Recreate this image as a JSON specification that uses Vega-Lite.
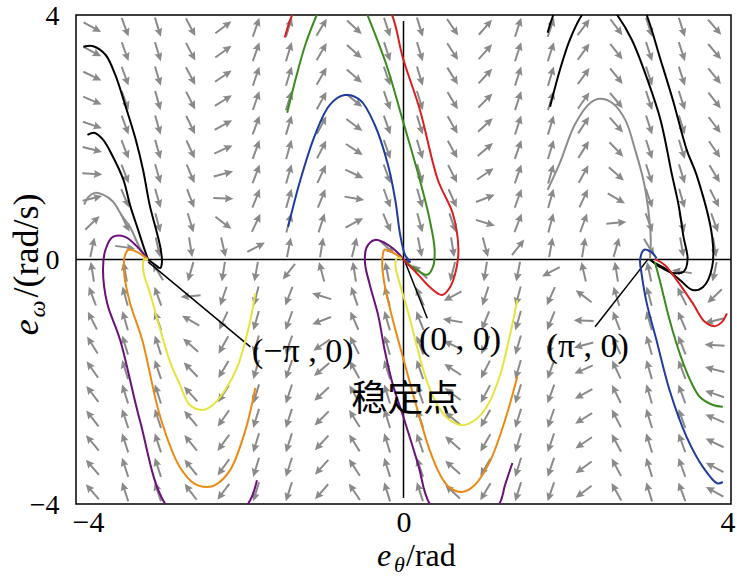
{
"$schema":"https://vega.github.io/schema/vega-lite/v6.json",
"width":655,"height":489,
"autosize":{"type":"none"},
"padding":{"left":76,"top":15,"right":6,"bottom":79},
"background":"white",
"config":{"view":{"stroke":"black","strokeWidth":1.5},"font":"Liberation Serif"},
"datasets":{
"arrows":[
{"x":-3.8,"y":-0.2,"a":-9},{"x":-3.8,"y":-0.6,"a":-21},{"x":-3.8,"y":-1.0,"a":-27},{"x":-3.8,"y":-1.4,"a":-32},{"x":-3.8,"y":-1.8,"a":-35},{"x":-3.8,"y":-2.2,"a":-37},{"x":-3.8,"y":-2.6,"a":-38},{"x":-3.8,"y":-3.0,"a":-40},{"x":-3.8,"y":-3.4,"a":-41},{"x":-3.8,"y":-3.8,"a":-41},
{"x":-3.8,"y":0.2,"a":12},{"x":-3.8,"y":0.6,"a":46},{"x":-3.8,"y":1.0,"a":76},{"x":-3.8,"y":1.4,"a":94},{"x":-3.8,"y":1.8,"a":104},{"x":-3.8,"y":2.2,"a":109},{"x":-3.8,"y":2.6,"a":113},{"x":-3.8,"y":3.0,"a":116},{"x":-3.8,"y":3.4,"a":118},{"x":-3.8,"y":3.8,"a":119},
{"x":-3.4,"y":-0.2,"a":-10},{"x":-3.4,"y":-0.6,"a":-15},{"x":-3.4,"y":-1.0,"a":-16},{"x":-3.4,"y":-1.4,"a":-17},{"x":-3.4,"y":-1.8,"a":-17},{"x":-3.4,"y":-2.2,"a":-17},{"x":-3.4,"y":-2.6,"a":-18},{"x":-3.4,"y":-3.0,"a":-18},{"x":-3.4,"y":-3.4,"a":-18},{"x":-3.4,"y":-3.8,"a":-18},
{"x":-3.4,"y":0.2,"a":98},{"x":-3.4,"y":0.6,"a":154},{"x":-3.4,"y":1.0,"a":157},{"x":-3.4,"y":1.4,"a":159},{"x":-3.4,"y":1.8,"a":159},{"x":-3.4,"y":2.2,"a":160},{"x":-3.4,"y":2.6,"a":160},{"x":-3.4,"y":3.0,"a":160},{"x":-3.4,"y":3.4,"a":160},{"x":-3.4,"y":3.8,"a":160},
{"x":-3.0,"y":-0.2,"a":-31},{"x":-3.0,"y":-0.6,"a":-20},{"x":-3.0,"y":-1.0,"a":-19},{"x":-3.0,"y":-1.4,"a":-18},{"x":-3.0,"y":-1.8,"a":-18},{"x":-3.0,"y":-2.2,"a":-18},{"x":-3.0,"y":-2.6,"a":-18},{"x":-3.0,"y":-3.0,"a":-18},{"x":-3.0,"y":-3.4,"a":-18},{"x":-3.0,"y":-3.8,"a":-18},
{"x":-3.0,"y":0.2,"a":168},{"x":-3.0,"y":0.6,"a":165},{"x":-3.0,"y":1.0,"a":164},{"x":-3.0,"y":1.4,"a":164},{"x":-3.0,"y":1.8,"a":164},{"x":-3.0,"y":2.2,"a":164},{"x":-3.0,"y":2.6,"a":164},{"x":-3.0,"y":3.0,"a":163},{"x":-3.0,"y":3.4,"a":163},{"x":-3.0,"y":3.8,"a":163},
{"x":-2.6,"y":-0.2,"a":-164},{"x":-2.6,"y":-0.6,"a":-95},{"x":-2.6,"y":-1.0,"a":-60},{"x":-2.6,"y":-1.4,"a":-49},{"x":-2.6,"y":-1.8,"a":-44},{"x":-2.6,"y":-2.2,"a":-42},{"x":-2.6,"y":-2.6,"a":-40},{"x":-2.6,"y":-3.0,"a":-39},{"x":-2.6,"y":-3.4,"a":-38},{"x":-2.6,"y":-3.8,"a":-37},
{"x":-2.6,"y":0.2,"a":171},{"x":-2.6,"y":0.6,"a":163},{"x":-2.6,"y":1.0,"a":159},{"x":-2.6,"y":1.4,"a":157},{"x":-2.6,"y":1.8,"a":155},{"x":-2.6,"y":2.2,"a":154},{"x":-2.6,"y":2.6,"a":153},{"x":-2.6,"y":3.0,"a":152},{"x":-2.6,"y":3.4,"a":152},{"x":-2.6,"y":3.8,"a":152},
{"x":-2.2,"y":-0.2,"a":-171},{"x":-2.2,"y":-0.6,"a":-161},{"x":-2.2,"y":-1.0,"a":-155},{"x":-2.2,"y":-1.4,"a":-151},{"x":-2.2,"y":-1.8,"a":-149},{"x":-2.2,"y":-2.2,"a":-147},{"x":-2.2,"y":-2.6,"a":-145},{"x":-2.2,"y":-3.0,"a":-144},{"x":-2.2,"y":-3.4,"a":-144},{"x":-2.2,"y":-3.8,"a":-143},
{"x":-2.2,"y":0.2,"a":167},{"x":-2.2,"y":0.6,"a":127},{"x":-2.2,"y":1.0,"a":92},{"x":-2.2,"y":1.4,"a":75},{"x":-2.2,"y":1.8,"a":66},{"x":-2.2,"y":2.2,"a":61},{"x":-2.2,"y":2.6,"a":58},{"x":-2.2,"y":3.0,"a":56},{"x":-2.2,"y":3.4,"a":54},{"x":-2.2,"y":3.8,"a":53},
{"x":-1.8,"y":-0.2,"a":-170},{"x":-1.8,"y":-0.6,"a":-166},{"x":-1.8,"y":-1.0,"a":-164},{"x":-1.8,"y":-1.4,"a":-164},{"x":-1.8,"y":-1.8,"a":-163},{"x":-1.8,"y":-2.2,"a":-163},{"x":-1.8,"y":-2.6,"a":-163},{"x":-1.8,"y":-3.0,"a":-163},{"x":-1.8,"y":-3.4,"a":-163},{"x":-1.8,"y":-3.8,"a":-163},
{"x":-1.8,"y":0.2,"a":62},{"x":-1.8,"y":0.6,"a":25},{"x":-1.8,"y":1.0,"a":22},{"x":-1.8,"y":1.4,"a":21},{"x":-1.8,"y":1.8,"a":20},{"x":-1.8,"y":2.2,"a":20},{"x":-1.8,"y":2.6,"a":19},{"x":-1.8,"y":3.0,"a":19},{"x":-1.8,"y":3.4,"a":19},{"x":-1.8,"y":3.8,"a":19},
{"x":-1.4,"y":-0.2,"a":-142},{"x":-1.4,"y":-0.6,"a":-159},{"x":-1.4,"y":-1.0,"a":-160},{"x":-1.4,"y":-1.4,"a":-161},{"x":-1.4,"y":-1.8,"a":-161},{"x":-1.4,"y":-2.2,"a":-162},{"x":-1.4,"y":-2.6,"a":-162},{"x":-1.4,"y":-3.0,"a":-162},{"x":-1.4,"y":-3.4,"a":-162},{"x":-1.4,"y":-3.8,"a":-162},
{"x":-1.4,"y":0.2,"a":11},{"x":-1.4,"y":0.6,"a":15},{"x":-1.4,"y":1.0,"a":16},{"x":-1.4,"y":1.4,"a":16},{"x":-1.4,"y":1.8,"a":16},{"x":-1.4,"y":2.2,"a":17},{"x":-1.4,"y":2.6,"a":17},{"x":-1.4,"y":3.0,"a":17},{"x":-1.4,"y":3.4,"a":17},{"x":-1.4,"y":3.8,"a":17},
{"x":-1.0,"y":-0.2,"a":-15},{"x":-1.0,"y":-0.6,"a":-73},{"x":-1.0,"y":-1.0,"a":-111},{"x":-1.0,"y":-1.4,"a":-124},{"x":-1.0,"y":-1.8,"a":-130},{"x":-1.0,"y":-2.2,"a":-133},{"x":-1.0,"y":-2.6,"a":-135},{"x":-1.0,"y":-3.0,"a":-137},{"x":-1.0,"y":-3.4,"a":-138},{"x":-1.0,"y":-3.8,"a":-139},
{"x":-1.0,"y":0.2,"a":9},{"x":-1.0,"y":0.6,"a":18},{"x":-1.0,"y":1.0,"a":22},{"x":-1.0,"y":1.4,"a":25},{"x":-1.0,"y":1.8,"a":27},{"x":-1.0,"y":2.2,"a":28},{"x":-1.0,"y":2.6,"a":29},{"x":-1.0,"y":3.0,"a":30},{"x":-1.0,"y":3.4,"a":30},{"x":-1.0,"y":3.8,"a":31},
{"x":-0.6,"y":-0.2,"a":-9},{"x":-0.6,"y":-0.6,"a":-19},{"x":-0.6,"y":-1.0,"a":-24},{"x":-0.6,"y":-1.4,"a":-27},{"x":-0.6,"y":-1.8,"a":-29},{"x":-0.6,"y":-2.2,"a":-30},{"x":-0.6,"y":-2.6,"a":-32},{"x":-0.6,"y":-3.0,"a":-32},{"x":-0.6,"y":-3.4,"a":-33},{"x":-0.6,"y":-3.8,"a":-34},
{"x":-0.6,"y":0.2,"a":14},{"x":-0.6,"y":0.6,"a":62},{"x":-0.6,"y":1.0,"a":100},{"x":-0.6,"y":1.4,"a":115},{"x":-0.6,"y":1.8,"a":123},{"x":-0.6,"y":2.2,"a":127},{"x":-0.6,"y":2.6,"a":129},{"x":-0.6,"y":3.0,"a":131},{"x":-0.6,"y":3.4,"a":132},{"x":-0.6,"y":3.8,"a":133},
{"x":-0.2,"y":-0.2,"a":-11},{"x":-0.2,"y":-0.6,"a":-15},{"x":-0.2,"y":-1.0,"a":-16},{"x":-0.2,"y":-1.4,"a":-16},{"x":-0.2,"y":-1.8,"a":-17},{"x":-0.2,"y":-2.2,"a":-17},{"x":-0.2,"y":-2.6,"a":-17},{"x":-0.2,"y":-3.0,"a":-17},{"x":-0.2,"y":-3.4,"a":-17},{"x":-0.2,"y":-3.8,"a":-17},
{"x":-0.2,"y":0.2,"a":132},{"x":-0.2,"y":0.6,"a":157},{"x":-0.2,"y":1.0,"a":160},{"x":-0.2,"y":1.4,"a":160},{"x":-0.2,"y":1.8,"a":161},{"x":-0.2,"y":2.2,"a":161},{"x":-0.2,"y":2.6,"a":161},{"x":-0.2,"y":3.0,"a":161},{"x":-0.2,"y":3.4,"a":162},{"x":-0.2,"y":3.8,"a":162},
{"x":0.2,"y":-0.2,"a":-48},{"x":0.2,"y":-0.6,"a":-23},{"x":0.2,"y":-1.0,"a":-21},{"x":0.2,"y":-1.4,"a":-20},{"x":0.2,"y":-1.8,"a":-19},{"x":0.2,"y":-2.2,"a":-19},{"x":0.2,"y":-2.6,"a":-19},{"x":0.2,"y":-3.0,"a":-19},{"x":0.2,"y":-3.4,"a":-19},{"x":0.2,"y":-3.8,"a":-18},
{"x":0.2,"y":0.2,"a":169},{"x":0.2,"y":0.6,"a":165},{"x":0.2,"y":1.0,"a":164},{"x":0.2,"y":1.4,"a":164},{"x":0.2,"y":1.8,"a":163},{"x":0.2,"y":2.2,"a":163},{"x":0.2,"y":2.6,"a":163},{"x":0.2,"y":3.0,"a":163},{"x":0.2,"y":3.4,"a":163},{"x":0.2,"y":3.8,"a":163},
{"x":0.6,"y":-0.2,"a":-166},{"x":0.6,"y":-0.6,"a":-118},{"x":0.6,"y":-1.0,"a":-80},{"x":0.6,"y":-1.4,"a":-65},{"x":0.6,"y":-1.8,"a":-57},{"x":0.6,"y":-2.2,"a":-53},{"x":0.6,"y":-2.6,"a":-51},{"x":0.6,"y":-3.0,"a":-49},{"x":0.6,"y":-3.4,"a":-48},{"x":0.6,"y":-3.8,"a":-47},
{"x":0.6,"y":0.2,"a":171},{"x":0.6,"y":0.6,"a":161},{"x":0.6,"y":1.0,"a":156},{"x":0.6,"y":1.4,"a":153},{"x":0.6,"y":1.8,"a":151},{"x":0.6,"y":2.2,"a":150},{"x":0.6,"y":2.6,"a":149},{"x":0.6,"y":3.0,"a":148},{"x":0.6,"y":3.4,"a":147},{"x":0.6,"y":3.8,"a":146},
{"x":1.0,"y":-0.2,"a":-171},{"x":1.0,"y":-0.6,"a":-162},{"x":1.0,"y":-1.0,"a":-158},{"x":1.0,"y":-1.4,"a":-155},{"x":1.0,"y":-1.8,"a":-153},{"x":1.0,"y":-2.2,"a":-152},{"x":1.0,"y":-2.6,"a":-151},{"x":1.0,"y":-3.0,"a":-150},{"x":1.0,"y":-3.4,"a":-150},{"x":1.0,"y":-3.8,"a":-149},
{"x":1.0,"y":0.2,"a":165},{"x":1.0,"y":0.6,"a":107},{"x":1.0,"y":1.0,"a":69},{"x":1.0,"y":1.4,"a":56},{"x":1.0,"y":1.8,"a":50},{"x":1.0,"y":2.2,"a":47},{"x":1.0,"y":2.6,"a":45},{"x":1.0,"y":3.0,"a":43},{"x":1.0,"y":3.4,"a":42},{"x":1.0,"y":3.8,"a":41},
{"x":1.4,"y":-0.2,"a":-169},{"x":1.4,"y":-0.6,"a":-165},{"x":1.4,"y":-1.0,"a":-164},{"x":1.4,"y":-1.4,"a":-164},{"x":1.4,"y":-1.8,"a":-164},{"x":1.4,"y":-2.2,"a":-163},{"x":1.4,"y":-2.6,"a":-163},{"x":1.4,"y":-3.0,"a":-163},{"x":1.4,"y":-3.4,"a":-163},{"x":1.4,"y":-3.8,"a":-163},
{"x":1.4,"y":0.2,"a":38},{"x":1.4,"y":0.6,"a":21},{"x":1.4,"y":1.0,"a":20},{"x":1.4,"y":1.4,"a":19},{"x":1.4,"y":1.8,"a":19},{"x":1.4,"y":2.2,"a":18},{"x":1.4,"y":2.6,"a":18},{"x":1.4,"y":3.0,"a":18},{"x":1.4,"y":3.4,"a":18},{"x":1.4,"y":3.8,"a":18},
{"x":1.8,"y":-0.2,"a":-118},{"x":1.8,"y":-0.6,"a":-156},{"x":1.8,"y":-1.0,"a":-158},{"x":1.8,"y":-1.4,"a":-160},{"x":1.8,"y":-1.8,"a":-160},{"x":1.8,"y":-2.2,"a":-160},{"x":1.8,"y":-2.6,"a":-161},{"x":1.8,"y":-3.0,"a":-161},{"x":1.8,"y":-3.4,"a":-161},{"x":1.8,"y":-3.8,"a":-161},
{"x":1.8,"y":0.2,"a":10},{"x":1.8,"y":0.6,"a":15},{"x":1.8,"y":1.0,"a":16},{"x":1.8,"y":1.4,"a":16},{"x":1.8,"y":1.8,"a":17},{"x":1.8,"y":2.2,"a":17},{"x":1.8,"y":2.6,"a":17},{"x":1.8,"y":3.0,"a":17},{"x":1.8,"y":3.4,"a":18},{"x":1.8,"y":3.8,"a":18},
{"x":2.2,"y":-0.2,"a":-13},{"x":2.2,"y":-0.6,"a":-53},{"x":2.2,"y":-1.0,"a":-88},{"x":2.2,"y":-1.4,"a":-105},{"x":2.2,"y":-1.8,"a":-114},{"x":2.2,"y":-2.2,"a":-119},{"x":2.2,"y":-2.6,"a":-122},{"x":2.2,"y":-3.0,"a":-124},{"x":2.2,"y":-3.4,"a":-126},{"x":2.2,"y":-3.8,"a":-127},
{"x":2.2,"y":0.2,"a":9},{"x":2.2,"y":0.6,"a":20},{"x":2.2,"y":1.0,"a":25},{"x":2.2,"y":1.4,"a":29},{"x":2.2,"y":1.8,"a":32},{"x":2.2,"y":2.2,"a":33},{"x":2.2,"y":2.6,"a":35},{"x":2.2,"y":3.0,"a":36},{"x":2.2,"y":3.4,"a":36},{"x":2.2,"y":3.8,"a":37},
{"x":2.6,"y":-0.2,"a":-9},{"x":2.6,"y":-0.6,"a":-17},{"x":2.6,"y":-1.0,"a":-21},{"x":2.6,"y":-1.4,"a":-24},{"x":2.6,"y":-1.8,"a":-25},{"x":2.6,"y":-2.2,"a":-26},{"x":2.6,"y":-2.6,"a":-27},{"x":2.6,"y":-3.0,"a":-28},{"x":2.6,"y":-3.4,"a":-28},{"x":2.6,"y":-3.8,"a":-29},
{"x":2.6,"y":0.2,"a":16},{"x":2.6,"y":0.6,"a":85},{"x":2.6,"y":1.0,"a":120},{"x":2.6,"y":1.4,"a":131},{"x":2.6,"y":1.8,"a":136},{"x":2.6,"y":2.2,"a":138},{"x":2.6,"y":2.6,"a":140},{"x":2.6,"y":3.0,"a":141},{"x":2.6,"y":3.4,"a":142},{"x":2.6,"y":3.8,"a":143},
{"x":3.0,"y":-0.2,"a":-12},{"x":3.0,"y":-0.6,"a":-15},{"x":3.0,"y":-1.0,"a":-16},{"x":3.0,"y":-1.4,"a":-16},{"x":3.0,"y":-1.8,"a":-16},{"x":3.0,"y":-2.2,"a":-16},{"x":3.0,"y":-2.6,"a":-17},{"x":3.0,"y":-3.0,"a":-17},{"x":3.0,"y":-3.4,"a":-17},{"x":3.0,"y":-3.8,"a":-17},
{"x":3.0,"y":0.2,"a":149},{"x":3.0,"y":0.6,"a":160},{"x":3.0,"y":1.0,"a":161},{"x":3.0,"y":1.4,"a":162},{"x":3.0,"y":1.8,"a":162},{"x":3.0,"y":2.2,"a":162},{"x":3.0,"y":2.6,"a":162},{"x":3.0,"y":3.0,"a":162},{"x":3.0,"y":3.4,"a":162},{"x":3.0,"y":3.8,"a":162},
{"x":3.4,"y":-0.2,"a":-82},{"x":3.4,"y":-0.6,"a":-27},{"x":3.4,"y":-1.0,"a":-23},{"x":3.4,"y":-1.4,"a":-22},{"x":3.4,"y":-1.8,"a":-21},{"x":3.4,"y":-2.2,"a":-20},{"x":3.4,"y":-2.6,"a":-20},{"x":3.4,"y":-3.0,"a":-20},{"x":3.4,"y":-3.4,"a":-20},{"x":3.4,"y":-3.8,"a":-20},
{"x":3.4,"y":0.2,"a":170},{"x":3.4,"y":0.6,"a":166},{"x":3.4,"y":1.0,"a":164},{"x":3.4,"y":1.4,"a":163},{"x":3.4,"y":1.8,"a":163},{"x":3.4,"y":2.2,"a":163},{"x":3.4,"y":2.6,"a":162},{"x":3.4,"y":3.0,"a":162},{"x":3.4,"y":3.4,"a":162},{"x":3.4,"y":3.8,"a":162},
{"x":3.8,"y":-0.2,"a":-168},{"x":3.8,"y":-0.6,"a":-134},{"x":3.8,"y":-1.0,"a":-104},{"x":3.8,"y":-1.4,"a":-86},{"x":3.8,"y":-1.8,"a":-76},{"x":3.8,"y":-2.2,"a":-71},{"x":3.8,"y":-2.6,"a":-67},{"x":3.8,"y":-3.0,"a":-64},{"x":3.8,"y":-3.4,"a":-62},{"x":3.8,"y":-3.8,"a":-61},
{"x":3.8,"y":0.2,"a":171},{"x":3.8,"y":0.6,"a":160},{"x":3.8,"y":1.0,"a":153},{"x":3.8,"y":1.4,"a":149},{"x":3.8,"y":1.8,"a":146},{"x":3.8,"y":2.2,"a":143},{"x":3.8,"y":2.6,"a":142},{"x":3.8,"y":3.0,"a":141},{"x":3.8,"y":3.4,"a":140},{"x":3.8,"y":3.8,"a":139}
],
"guides":[
{"s":"h","i":0,"x":-4,"y":0},{"s":"h","i":1,"x":4,"y":0},
{"s":"v","i":0,"x":0,"y":-3.9},{"s":"v","i":1,"x":0,"y":3.9},
{"s":"k1","i":0,"x":-3.12,"y":-0.04},{"s":"k1","i":1,"x":-1.87,"y":-1.43},
{"s":"k2","i":0,"x":0.02,"y":-0.04},{"s":"k2","i":1,"x":0.29,"y":-0.96},
{"s":"k3","i":0,"x":2.99,"y":0.01},{"s":"k3","i":1,"x":2.34,"y":-1.10}
],
"curves":[
{"s":"cb","c":"blue","i":0,"x":-1.41,"y":0.53},{"s":"cb","c":"blue","i":1,"x":-1.26,"y":1.30},{"s":"cb","c":"blue","i":2,"x":-1.08,"y":2.04},{"s":"cb","c":"blue","i":3,"x":-0.90,"y":2.53},{"s":"cb","c":"blue","i":4,"x":-0.72,"y":2.69},{"s":"cb","c":"blue","i":5,"x":-0.53,"y":2.61},{"s":"cb","c":"blue","i":6,"x":-0.35,"y":2.20},{"s":"cb","c":"blue","i":7,"x":-0.19,"y":1.55},{"s":"cb","c":"blue","i":8,"x":-0.10,"y":0.97},{"s":"cb","c":"blue","i":9,"x":-0.04,"y":0.40},{"s":"cb","c":"blue","i":10,"x":0.02,"y":0.07},{"s":"cb","c":"blue","i":11,"x":0.08,"y":-0.04},{"s":"cb","c":"blue","i":12,"x":0.03,"y":-0.02},
{"s":"cg","c":"green","i":0,"x":-1.42,"y":2.40},{"s":"cg","c":"green","i":1,"x":-1.32,"y":2.94},{"s":"cg","c":"green","i":2,"x":-1.20,"y":3.51},{"s":"cg","c":"green","i":3,"x":-1.06,"y":4.0},{"s":"cg","c":"green","i":4,"x":-0.92,"y":4.4},{"s":"cg","c":"green","i":5,"x":-0.75,"y":4.6},{"s":"cg","c":"green","i":6,"x":-0.58,"y":4.45},{"s":"cg","c":"green","i":7,"x":-0.44,"y":4.0},{"s":"cg","c":"green","i":8,"x":-0.20,"y":3.15},{"s":"cg","c":"green","i":9,"x":-0.01,"y":2.28},{"s":"cg","c":"green","i":10,"x":0.20,"y":1.30},{"s":"cg","c":"green","i":11,"x":0.32,"y":0.65},{"s":"cg","c":"green","i":12,"x":0.38,"y":0.16},{"s":"cg","c":"green","i":13,"x":0.36,"y":-0.12},{"s":"cg","c":"green","i":14,"x":0.29,"y":-0.25},{"s":"cg","c":"green","i":15,"x":0.16,"y":-0.17},{"s":"cg","c":"green","i":16,"x":0.05,"y":-0.06},{"s":"cg","c":"green","i":17,"x":0,"y":0},
{"s":"cr","c":"red","i":0,"x":-1.45,"y":3.63},{"s":"cr","c":"red","i":1,"x":-1.36,"y":4.0},{"s":"cr","c":"red","i":2,"x":-1.1,"y":4.6},{"s":"cr","c":"red","i":3,"x":-0.75,"y":4.9},{"s":"cr","c":"red","i":4,"x":-0.4,"y":4.6},{"s":"cr","c":"red","i":5,"x":-0.14,"y":4.0},{"s":"cr","c":"red","i":6,"x":-0.01,"y":3.31},{"s":"cr","c":"red","i":7,"x":0.20,"y":2.45},{"s":"cr","c":"red","i":8,"x":0.42,"y":1.30},{"s":"cr","c":"red","i":9,"x":0.60,"y":0.76},{"s":"cr","c":"red","i":10,"x":0.67,"y":0.20},{"s":"cr","c":"red","i":11,"x":0.65,"y":-0.12},{"s":"cr","c":"red","i":12,"x":0.57,"y":-0.45},{"s":"cr","c":"red","i":13,"x":0.47,"y":-0.58},{"s":"cr","c":"red","i":14,"x":0.32,"y":-0.45},{"s":"cr","c":"red","i":15,"x":0.16,"y":-0.22},{"s":"cr","c":"red","i":16,"x":0.04,"y":-0.06},{"s":"cr","c":"red","i":17,"x":0,"y":0},
{"s":"cp","c":"purple","i":0,"x":1.33,"y":-3.33},{"s":"cp","c":"purple","i":1,"x":1.24,"y":-3.69},{"s":"cp","c":"purple","i":2,"x":1.17,"y":-4.0},{"s":"cp","c":"purple","i":3,"x":0.75,"y":-4.6},{"s":"cp","c":"purple","i":4,"x":0.32,"y":-4.0},{"s":"cp","c":"purple","i":5,"x":0.18,"y":-3.36},{"s":"cp","c":"purple","i":6,"x":0.0,"y":-2.58},{"s":"cp","c":"purple","i":7,"x":-0.13,"y":-2.05},{"s":"cp","c":"purple","i":8,"x":-0.23,"y":-1.48},{"s":"cp","c":"purple","i":9,"x":-0.31,"y":-0.91},{"s":"cp","c":"purple","i":10,"x":-0.41,"y":-0.42},{"s":"cp","c":"purple","i":11,"x":-0.47,"y":-0.06},{"s":"cp","c":"purple","i":12,"x":-0.45,"y":0.20},{"s":"cp","c":"purple","i":13,"x":-0.35,"y":0.32},{"s":"cp","c":"purple","i":14,"x":-0.19,"y":0.24},{"s":"cp","c":"purple","i":15,"x":-0.07,"y":0.11},{"s":"cp","c":"purple","i":16,"x":0,"y":0},
{"s":"co","c":"orange","i":0,"x":1.39,"y":-1.92},{"s":"co","c":"orange","i":1,"x":1.24,"y":-2.63},{"s":"co","c":"orange","i":2,"x":1.06,"y":-3.29},{"s":"co","c":"orange","i":3,"x":0.87,"y":-3.69},{"s":"co","c":"orange","i":4,"x":0.73,"y":-3.80},{"s":"co","c":"orange","i":5,"x":0.57,"y":-3.74},{"s":"co","c":"orange","i":6,"x":0.45,"y":-3.53},{"s":"co","c":"orange","i":7,"x":0.32,"y":-3.12},{"s":"co","c":"orange","i":8,"x":0.16,"y":-2.41},{"s":"co","c":"orange","i":9,"x":0.02,"y":-1.73},{"s":"co","c":"orange","i":10,"x":-0.13,"y":-0.99},{"s":"co","c":"orange","i":11,"x":-0.23,"y":-0.42},{"s":"co","c":"orange","i":12,"x":-0.26,"y":-0.06},{"s":"co","c":"orange","i":13,"x":-0.23,"y":0.16},{"s":"co","c":"orange","i":14,"x":-0.14,"y":0.12},{"s":"co","c":"orange","i":15,"x":-0.02,"y":0.02},
{"s":"cy","c":"yellow","i":0,"x":1.39,"y":-0.66},{"s":"cy","c":"yellow","i":1,"x":1.30,"y":-1.24},{"s":"cy","c":"yellow","i":2,"x":1.18,"y":-1.89},{"s":"cy","c":"yellow","i":3,"x":1.03,"y":-2.38},{"s":"cy","c":"yellow","i":4,"x":0.87,"y":-2.63},{"s":"cy","c":"yellow","i":5,"x":0.71,"y":-2.71},{"s":"cy","c":"yellow","i":6,"x":0.53,"y":-2.59},{"s":"cy","c":"yellow","i":7,"x":0.38,"y":-2.30},{"s":"cy","c":"yellow","i":8,"x":0.26,"y":-1.89},{"s":"cy","c":"yellow","i":9,"x":0.16,"y":-1.40},{"s":"cy","c":"yellow","i":10,"x":0.05,"y":-0.83},{"s":"cy","c":"yellow","i":11,"x":-0.04,"y":-0.42},{"s":"cy","c":"yellow","i":12,"x":-0.10,"y":-0.09},{"s":"cy","c":"yellow","i":13,"x":-0.08,"y":0.02},{"s":"cy","c":"yellow","i":14,"x":-0.02,"y":0.01},
{"s":"la","c":"black","i":0,"x":-3.91,"y":3.48},{"s":"la","c":"black","i":1,"x":-3.79,"y":3.49},{"s":"la","c":"black","i":2,"x":-3.64,"y":3.35},{"s":"la","c":"black","i":3,"x":-3.52,"y":3.02},{"s":"la","c":"black","i":4,"x":-3.40,"y":2.53},{"s":"la","c":"black","i":5,"x":-3.27,"y":1.96},{"s":"la","c":"black","i":6,"x":-3.18,"y":1.46},{"s":"la","c":"black","i":7,"x":-3.10,"y":0.89},{"s":"la","c":"black","i":8,"x":-3.02,"y":0.48},{"s":"la","c":"black","i":9,"x":-2.97,"y":0.20},{"s":"la","c":"black","i":10,"x":-2.95,"y":-0.04},{"s":"la","c":"black","i":11,"x":-2.97,"y":-0.14},{"s":"la","c":"black","i":12,"x":-3.03,"y":-0.09},{"s":"la","c":"black","i":13,"x":-3.12,"y":0},
{"s":"lb","c":"black","i":0,"x":-3.86,"y":2.04},{"s":"lb","c":"black","i":1,"x":-3.77,"y":2.07},{"s":"lb","c":"black","i":2,"x":-3.67,"y":1.96},{"s":"lb","c":"black","i":3,"x":-3.56,"y":1.71},{"s":"lb","c":"black","i":4,"x":-3.42,"y":1.30},{"s":"lb","c":"black","i":5,"x":-3.34,"y":0.89},{"s":"lb","c":"black","i":6,"x":-3.24,"y":0.48},{"s":"lb","c":"black","i":7,"x":-3.17,"y":0.19},{"s":"lb","c":"black","i":8,"x":-3.12,"y":0},
{"s":"lg","c":"gray","i":0,"x":-3.90,"y":0.90},{"s":"lg","c":"gray","i":1,"x":-3.85,"y":1.02},{"s":"lg","c":"gray","i":2,"x":-3.77,"y":1.09},{"s":"lg","c":"gray","i":3,"x":-3.67,"y":1.06},{"s":"lg","c":"gray","i":4,"x":-3.55,"y":0.95},{"s":"lg","c":"gray","i":5,"x":-3.44,"y":0.72},{"s":"lg","c":"gray","i":6,"x":-3.34,"y":0.53},{"s":"lg","c":"gray","i":7,"x":-3.22,"y":0.19},{"s":"lg","c":"gray","i":8,"x":-3.12,"y":0},
{"s":"lp","c":"purple","i":0,"x":-1.79,"y":-3.61},{"s":"lp","c":"purple","i":1,"x":-1.90,"y":-4.0},{"s":"lp","c":"purple","i":2,"x":-2.40,"y":-4.6},{"s":"lp","c":"purple","i":3,"x":-2.91,"y":-4.0},{"s":"lp","c":"purple","i":4,"x":-3.22,"y":-2.63},{"s":"lp","c":"purple","i":5,"x":-3.46,"y":-1.32},{"s":"lp","c":"purple","i":6,"x":-3.62,"y":-0.71},{"s":"lp","c":"purple","i":7,"x":-3.67,"y":-0.17},{"s":"lp","c":"purple","i":8,"x":-3.64,"y":0.16},{"s":"lp","c":"purple","i":9,"x":-3.55,"y":0.37},{"s":"lp","c":"purple","i":10,"x":-3.40,"y":0.37},{"s":"lp","c":"purple","i":11,"x":-3.24,"y":0.19},{"s":"lp","c":"purple","i":12,"x":-3.12,"y":0},
{"s":"lo","c":"orange","i":0,"x":-1.81,"y":-2.10},{"s":"lo","c":"orange","i":1,"x":-1.93,"y":-2.79},{"s":"lo","c":"orange","i":2,"x":-2.12,"y":-3.45},{"s":"lo","c":"orange","i":3,"x":-2.30,"y":-3.69},{"s":"lo","c":"orange","i":4,"x":-2.40,"y":-3.72},{"s":"lo","c":"orange","i":5,"x":-2.55,"y":-3.67},{"s":"lo","c":"orange","i":6,"x":-2.73,"y":-3.40},{"s":"lo","c":"orange","i":7,"x":-2.97,"y":-2.58},{"s":"lo","c":"orange","i":8,"x":-3.19,"y":-1.32},{"s":"lo","c":"orange","i":9,"x":-3.34,"y":-0.71},{"s":"lo","c":"orange","i":10,"x":-3.41,"y":-0.25},{"s":"lo","c":"orange","i":11,"x":-3.41,"y":0.02},{"s":"lo","c":"orange","i":12,"x":-3.36,"y":0.16},{"s":"lo","c":"orange","i":13,"x":-3.25,"y":0.12},{"s":"lo","c":"orange","i":14,"x":-3.13,"y":0.01},
{"s":"ly","c":"yellow","i":0,"x":-1.81,"y":-0.55},{"s":"ly","c":"yellow","i":1,"x":-1.87,"y":-0.99},{"s":"ly","c":"yellow","i":2,"x":-1.93,"y":-1.32},{"s":"ly","c":"yellow","i":3,"x":-2.03,"y":-1.76},{"s":"ly","c":"yellow","i":4,"x":-2.18,"y":-2.14},{"s":"ly","c":"yellow","i":5,"x":-2.33,"y":-2.38},{"s":"ly","c":"yellow","i":6,"x":-2.45,"y":-2.46},{"s":"ly","c":"yellow","i":7,"x":-2.61,"y":-2.38},{"s":"ly","c":"yellow","i":8,"x":-2.73,"y":-2.05},{"s":"ly","c":"yellow","i":9,"x":-2.85,"y":-1.68},{"s":"ly","c":"yellow","i":10,"x":-2.97,"y":-1.15},{"s":"ly","c":"yellow","i":11,"x":-3.09,"y":-0.58},{"s":"ly","c":"yellow","i":12,"x":-3.18,"y":-0.17},{"s":"ly","c":"yellow","i":13,"x":-3.17,"y":0},{"s":"ly","c":"yellow","i":14,"x":-3.12,"y":0},
{"s":"rd","c":"black","i":0,"x":1.79,"y":2.50},{"s":"rd","c":"black","i":1,"x":1.91,"y":3.10},{"s":"rd","c":"black","i":2,"x":2.03,"y":3.59},{"s":"rd","c":"black","i":3,"x":2.18,"y":4.0},{"s":"rd","c":"black","i":4,"x":2.40,"y":4.33},{"s":"rd","c":"black","i":5,"x":2.61,"y":4.0},{"s":"rd","c":"black","i":6,"x":2.79,"y":3.59},{"s":"rd","c":"black","i":7,"x":2.98,"y":2.94},{"s":"rd","c":"black","i":8,"x":3.14,"y":2.28},{"s":"rd","c":"black","i":9,"x":3.28,"y":1.38},{"s":"rd","c":"black","i":10,"x":3.36,"y":0.89},{"s":"rd","c":"black","i":11,"x":3.42,"y":0.37},{"s":"rd","c":"black","i":12,"x":3.47,"y":0.0},{"s":"rd","c":"black","i":13,"x":3.42,"y":-0.20},{"s":"rd","c":"black","i":14,"x":3.29,"y":-0.22},{"s":"rd","c":"black","i":15,"x":3.13,"y":-0.12},{"s":"rd","c":"black","i":16,"x":3.01,"y":0},
{"s":"re","c":"black","i":0,"x":1.76,"y":3.71},{"s":"re","c":"black","i":1,"x":1.83,"y":4.0},{"s":"re","c":"black","i":2,"x":2.1,"y":4.8},{"s":"re","c":"black","i":3,"x":2.4,"y":5.1},{"s":"re","c":"black","i":4,"x":2.7,"y":4.8},{"s":"re","c":"black","i":5,"x":2.97,"y":4.0},{"s":"re","c":"black","i":6,"x":3.13,"y":3.31},{"s":"re","c":"black","i":7,"x":3.29,"y":2.61},{"s":"re","c":"black","i":8,"x":3.46,"y":1.79},{"s":"re","c":"black","i":9,"x":3.58,"y":1.38},{"s":"re","c":"black","i":10,"x":3.77,"y":0.37},{"s":"re","c":"black","i":11,"x":3.77,"y":-0.12},{"s":"re","c":"black","i":12,"x":3.66,"y":-0.45},{"s":"re","c":"black","i":13,"x":3.53,"y":-0.50},{"s":"re","c":"black","i":14,"x":3.38,"y":-0.34},{"s":"re","c":"black","i":15,"x":3.22,"y":-0.17},{"s":"re","c":"black","i":16,"x":3.05,"y":-0.04},{"s":"re","c":"black","i":17,"x":3.01,"y":0},
{"s":"rg","c":"gray","i":0,"x":1.76,"y":1.14},{"s":"rg","c":"gray","i":1,"x":1.91,"y":1.58},{"s":"rg","c":"gray","i":2,"x":2.09,"y":2.20},{"s":"rg","c":"gray","i":3,"x":2.28,"y":2.56},{"s":"rg","c":"gray","i":4,"x":2.40,"y":2.63},{"s":"rg","c":"gray","i":5,"x":2.55,"y":2.56},{"s":"rg","c":"gray","i":6,"x":2.71,"y":2.28},{"s":"rg","c":"gray","i":7,"x":2.83,"y":1.79},{"s":"rg","c":"gray","i":8,"x":2.93,"y":1.30},{"s":"rg","c":"gray","i":9,"x":2.99,"y":0.81},{"s":"rg","c":"gray","i":10,"x":3.02,"y":0.32},{"s":"rg","c":"gray","i":11,"x":3.01,"y":0.02},
{"s":"rr","c":"red","i":0,"x":3.95,"y":-0.88},{"s":"rr","c":"red","i":1,"x":3.89,"y":-1.02},{"s":"rr","c":"red","i":2,"x":3.80,"y":-1.09},{"s":"rr","c":"red","i":3,"x":3.68,"y":-1.02},{"s":"rr","c":"red","i":4,"x":3.53,"y":-0.71},{"s":"rr","c":"red","i":5,"x":3.34,"y":-0.34},{"s":"rr","c":"red","i":6,"x":3.19,"y":-0.09},{"s":"rr","c":"red","i":7,"x":3.07,"y":0.01},
{"s":"rgn","c":"green","i":0,"x":3.90,"y":-2.41},{"s":"rgn","c":"green","i":1,"x":3.78,"y":-2.38},{"s":"rgn","c":"green","i":2,"x":3.62,"y":-2.25},{"s":"rgn","c":"green","i":3,"x":3.50,"y":-1.97},{"s":"rgn","c":"green","i":4,"x":3.38,"y":-1.56},{"s":"rgn","c":"green","i":5,"x":3.25,"y":-0.99},{"s":"rgn","c":"green","i":6,"x":3.13,"y":-0.34},{"s":"rgn","c":"green","i":7,"x":3.07,"y":-0.04},
{"s":"rb","c":"blue","i":0,"x":3.90,"y":-3.64},{"s":"rb","c":"blue","i":1,"x":3.83,"y":-3.66},{"s":"rb","c":"blue","i":2,"x":3.66,"y":-3.40},{"s":"rb","c":"blue","i":3,"x":3.46,"y":-2.91},{"s":"rb","c":"blue","i":4,"x":3.25,"y":-2.14},{"s":"rb","c":"blue","i":5,"x":3.09,"y":-1.32},{"s":"rb","c":"blue","i":6,"x":2.97,"y":-0.71},{"s":"rb","c":"blue","i":7,"x":2.91,"y":-0.25},{"s":"rb","c":"blue","i":8,"x":2.89,"y":0.0},{"s":"rb","c":"blue","i":9,"x":2.94,"y":0.16},{"s":"rb","c":"blue","i":10,"x":3.03,"y":0.12},{"s":"rb","c":"blue","i":11,"x":3.09,"y":0.02}
],
"notes":[
{"x":-1.23,"y":-1.51,"t":"(−π , 0)"},
{"x":0.69,"y":-1.32,"t":"(0 , 0)"},
{"x":2.25,"y":-1.43,"t":"(π , 0)"}
],
"cjk":[{"x":0.02,"y":-2.30,"t":"稳定点"}],
"xe":[{"x":-0.324,"y":-5.02,"t":"e"}],
"xsub":[{"x":-0.116,"y":-5.11,"t":"θ"}],
"xrest":[{"x":0.031,"y":-5.02,"t":"/rad"}],
"ye":[{"x":-4.46,"y":-1.24,"t":"e"}],
"ysub":[{"x":-4.38,"y":-0.95,"t":"ω"}],
"yrest":[{"x":-4.46,"y":-0.62,"t":"/(rad/s)"}]
},
"encoding":{
"x":{"field":"x","type":"quantitative","scale":{"domain":[-4,4],"nice":false,"zero":false},
"axis":{"values":[-4,0,4],"title":null,"ticks":false,"domain":false,"grid":false,"labelFontSize":30,"labelFont":"Liberation Serif","labelColor":"black","labelPadding":3,"labelFlush":true,"labelFlushOffset":4}},
"y":{"field":"y","type":"quantitative","scale":{"domain":[-4,4],"nice":false,"zero":false},
"axis":{"values":[-4,0,4],"title":null,"ticks":false,"domain":false,"grid":false,"labelFontSize":28,"labelFont":"Liberation Serif","labelColor":"black","labelPadding":17,"labelFlush":false,"labelOffset":1}}
},
"layer":[
{"data":{"name":"arrows"},
"mark":{"type":"point","shape":"M0,-1L0.4,-0.15L0.1,-0.25L0.1,1L-0.1,1L-0.1,-0.25L-0.4,-0.15Z","filled":true,"fill":"#8a8a8a","opacity":1,"size":400,"strokeWidth":0},
"encoding":{"angle":{"field":"a","type":"quantitative","scale":null}}},
{"data":{"name":"guides"},
"mark":{"type":"line","color":"black","strokeWidth":1.5,"clip":true},
"encoding":{"detail":{"field":"s","type":"nominal"},"order":{"field":"i","type":"quantitative"}}},
{"data":{"name":"curves"},
"mark":{"type":"line","strokeWidth":2,"clip":true,"interpolate":"catmull-rom"},
"encoding":{"color":{"field":"c","type":"nominal","scale":{"domain":["black","gray","red","green","blue","purple","orange","yellow"],"range":["#000000","#8c8c8c","#d81e1e","#3a8a1e","#1f3c9c","#6b0f7a","#e88a14","#e4e43c"]},"legend":null},
"detail":{"field":"s","type":"nominal"},"order":{"field":"i","type":"quantitative"}}},
{"data":{"name":"notes"},
"mark":{"type":"text","font":"Liberation Serif","fontSize":34,"color":"black","align":"center","baseline":"middle"},
"encoding":{"text":{"field":"t","type":"nominal"}}},
{"data":{"name":"cjk"},
"mark":{"type":"text","font":"Noto Sans CJK SC","fontSize":36,"color":"black","align":"center","baseline":"middle"},
"encoding":{"text":{"field":"t","type":"nominal"}}},
{"data":{"name":"xe"},
"mark":{"type":"text","font":"Liberation Serif","fontStyle":"italic","fontSize":32,"color":"black","align":"left","baseline":"alphabetic"},
"encoding":{"text":{"field":"t","type":"nominal"}}},
{"data":{"name":"xsub"},
"mark":{"type":"text","font":"Liberation Serif","fontStyle":"italic","fontSize":22,"color":"black","align":"left","baseline":"alphabetic"},
"encoding":{"text":{"field":"t","type":"nominal"}}},
{"data":{"name":"xrest"},
"mark":{"type":"text","font":"Liberation Serif","fontSize":32,"color":"black","align":"left","baseline":"alphabetic"},
"encoding":{"text":{"field":"t","type":"nominal"}}},
{"data":{"name":"ye"},
"mark":{"type":"text","font":"Liberation Serif","fontStyle":"italic","fontSize":36,"color":"black","align":"left","baseline":"alphabetic","angle":270},
"encoding":{"text":{"field":"t","type":"nominal"}}},
{"data":{"name":"ysub"},
"mark":{"type":"text","font":"Liberation Serif","fontStyle":"italic","fontSize":24,"color":"black","align":"left","baseline":"alphabetic","angle":270},
"encoding":{"text":{"field":"t","type":"nominal"}}},
{"data":{"name":"yrest"},
"mark":{"type":"text","font":"Liberation Serif","fontSize":36,"color":"black","align":"left","baseline":"alphabetic","angle":270},
"encoding":{"text":{"field":"t","type":"nominal"}}}
]
}
